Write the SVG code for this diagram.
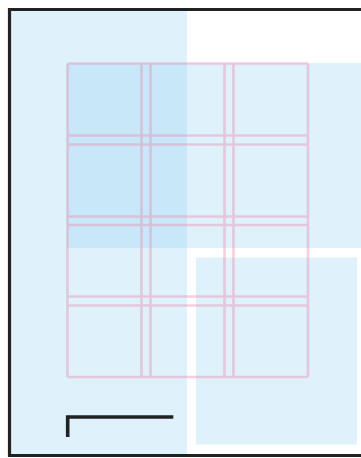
<svg xmlns="http://www.w3.org/2000/svg" width="361" height="458" viewBox="0 0 361 458">
<style>
.panel{fill:#8dcdf1;fill-opacity:0.28}
.grid{fill:none;stroke:#e88aab;stroke-opacity:0.4;stroke-width:2.6}
.bar{fill:none;stroke:#222;stroke-width:3.6;stroke-linecap:butt;stroke-linejoin:miter}
</style>
<rect width="361" height="458" fill="#fff"/>
<g id="panels">
<rect class="panel" x="11" y="11" width="176" height="444"/>
<rect class="panel" x="67" y="63" width="294" height="185"/>
<rect class="panel" x="196" y="257.5" width="161" height="187"/>
</g>
<g id="grid">
<path class="grid" d="M67.5 63.5 V377 M141.5 63.5 V377 M150.5 63.5 V377 M224.5 63.5 V377 M233.5 63.5 V377 M308 63.5 V377 M67.5 63.5 H308 M67.5 135.5 H308 M67.5 144.5 H308 M67.5 216.5 H308 M67.5 225 H308 M67.5 296.5 H308 M67.5 305.5 H308 M67.5 377 H308"/>
</g>
<g id="scalebar">
<path class="bar" d="M67.7 437 V417 H173.3"/>
</g>
<g id="frame">
<path d="M370 9.5 H9.5 V455.5 H370" fill="none" stroke="#222" stroke-width="3.2"/>
</g>
</svg>
